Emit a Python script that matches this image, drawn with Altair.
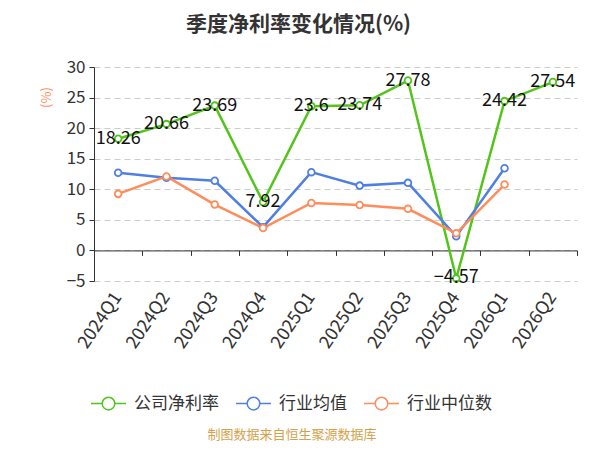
import altair as alt
import pandas as pd

quarters = ["2024Q1", "2024Q2", "2024Q3", "2024Q4", "2025Q1", "2025Q2", "2025Q3", "2025Q4", "2026Q1", "2026Q2"]
company = [18.26, 20.66, 23.69, 7.92, 23.6, 23.74, 27.78, -4.57, 24.42, 27.54]
ind_mean = [12.7, 11.9, 11.4, 3.8, 12.8, 10.6, 11.05, 2.3, 13.45, None]
ind_median = [9.25, 12.1, 7.5, 3.67, 7.77, 7.44, 6.8, 2.8, 10.77, None]
series_names = ["公司净利率", "行业均值", "行业中位数"]
series_colors = ["#52c41a", "#4f7fe3", "#ff8c5a"]
y_ticks = [-5, 0, 5, 10, 15, 20, 25, 30]

rows = []
for name, vals in zip(series_names, [company, ind_mean, ind_median]):
    for q, v in zip(quarters, vals):
        if v is not None:
            rows.append({"quarter": q, "value": v, "series": name})
df = pd.DataFrame(rows)
df_company = df[df["series"] == series_names[0]]

FONT = "Noto Sans CJK SC"
W, H = 483, 214
ymin, ymax = y_ticks[0], y_ticks[-1]
zero_offset = -H * (0 - ymin) / (ymax - ymin)

xscale = alt.Scale(type="band", domain=quarters, paddingInner=0, paddingOuter=0)
yscale = alt.Scale(domain=[ymin, ymax], nice=False, zero=False)

legend_symbol = "M-1,0L-0.36,0M0.36,0L1,0M0.36,0A0.36,0.36 0 1,1 -0.36,0A0.36,0.36 0 1,1 0.36,0Z"

color = alt.Color(
    "series:N",
    scale=alt.Scale(domain=series_names, range=series_colors),
    sort=series_names,
    legend=alt.Legend(
        title=None, orient="none", direction="horizontal",
        legendX=-4, legendY=318,
        symbolType=legend_symbol, symbolSize=1225, symbolStrokeWidth=1.5,
        symbolFillColor="white",
        labelFont=FONT, labelFontSize=17, labelColor="#333333",
        columnPadding=14, labelOffset=7,
    ),
)

y_enc = alt.Y(
    "value:Q", scale=yscale,
    axis=alt.Axis(
        values=y_ticks, title="(%)", titleColor="#ff8c5a",
        titleFont=FONT, titleFontSize=13, titleFontWeight="normal",
        titleX=-48, titleY=30, titleAlign="center", titleBaseline="middle", titleAngle=-90,
        labelFont=FONT, labelFontSize=17, labelColor="#333333", labelPadding=4,
        labelOverlap=False, labelFlush=False,
        domainColor="#333333", tickColor="#333333", tickSize=5,
        gridColor="#cccccc", gridDash=[6, 4],
    ),
)

lines = alt.Chart(df).mark_line(strokeWidth=2.5).encode(
    x=alt.X("quarter:N", scale=xscale, sort=quarters,
            axis=alt.Axis(title=None, domain=False, ticks=False, grid=False, orient="bottom",
                          labelAngle=-56, labelAlign="right", labelBaseline="middle",
                          labelFont=FONT, labelFontSize=18, labelColor="#333333",
                          labelPadding=13)),
    y=y_enc,
    color=color,
)

points = alt.Chart(df).mark_point(filled=True, fill="white", size=45, strokeWidth=1.8, opacity=1).encode(
    x=alt.X("quarter:N", scale=xscale, sort=quarters,
            axis=alt.Axis(title=None, labels=False, grid=False, orient="bottom", offset=zero_offset,
                          domainColor="#333333", tickColor="#333333", tickSize=5,
                          tickBand="extent", domainWidth=1)),
    y=y_enc,
    stroke=alt.Stroke("series:N", scale=alt.Scale(domain=series_names, range=series_colors), legend=None),
)

labels = alt.Chart(df_company).mark_text(font=FONT, fontSize=18, color="#111111", baseline="middle", align="center").encode(
    x=alt.X("quarter:N", scale=xscale, sort=quarters, axis=None),
    y=y_enc,
    text=alt.Text("value:Q"),
)

footer = alt.Chart(pd.DataFrame({"t": ["制图数据来自恒生聚源数据库"]})).mark_text(
    font=FONT, fontSize=13, color="#d4a24c", align="center", baseline="middle"
).encode(x=alt.value(198), y=alt.value(368), text="t:N")

chart = alt.layer(lines, points, labels, footer).resolve_axis(x="independent").properties(
    width=W, height=H,
    background="white",
    autosize=alt.AutoSizeParams(type="none"),
    padding={"left": 86, "top": 59, "right": 15, "bottom": 161},
    title=alt.TitleParams("季度净利率变化情况(%)", font=FONT, fontSize=21, fontWeight="bold",
                          color="#333333", anchor="middle", dx=-37, offset=23),
).configure_view(stroke=None)

chart.save("out.html", embed_options={"renderer": "svg", "actions": False})
